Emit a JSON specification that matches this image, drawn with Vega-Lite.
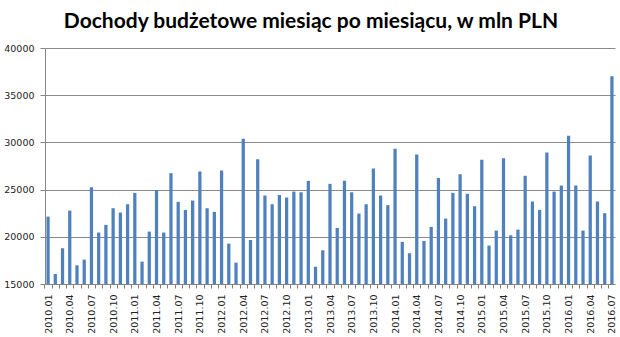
{
  "$schema": "https://vega.github.io/schema/vega-lite/v6.json",
  "width": 570,
  "height": 236,
  "autosize": {"type": "none"},
  "padding": {"left": 45, "top": 48, "right": 5, "bottom": 53},
  "background": "white",
  "title": {
    "text": "Dochody budżetowe miesiąc po miesiącu, w mln PLN",
    "font": "Lato",
    "fontSize": 21,
    "fontWeight": "bold",
    "color": "#000000",
    "anchor": "middle",
    "dx": -19,
    "offset": 11
  },
  "data": {
    "values": [
      {"m": "2010.01", "v": 22140}, {"m": "2010.02", "v": 16060}, {"m": "2010.03", "v": 18780},
      {"m": "2010.04", "v": 22780}, {"m": "2010.05", "v": 16980}, {"m": "2010.06", "v": 17580},
      {"m": "2010.07", "v": 25250}, {"m": "2010.08", "v": 20450}, {"m": "2010.09", "v": 21260},
      {"m": "2010.10", "v": 23030}, {"m": "2010.11", "v": 22570}, {"m": "2010.12", "v": 23450},
      {"m": "2011.01", "v": 24650}, {"m": "2011.02", "v": 17370}, {"m": "2011.03", "v": 20550},
      {"m": "2011.04", "v": 24970}, {"m": "2011.05", "v": 20450}, {"m": "2011.06", "v": 26740},
      {"m": "2011.07", "v": 23700}, {"m": "2011.08", "v": 22850}, {"m": "2011.09", "v": 23840},
      {"m": "2011.10", "v": 26920}, {"m": "2011.11", "v": 23030}, {"m": "2011.12", "v": 22640},
      {"m": "2012.01", "v": 27020}, {"m": "2012.02", "v": 19280}, {"m": "2012.03", "v": 17260},
      {"m": "2012.04", "v": 30380}, {"m": "2012.05", "v": 19670}, {"m": "2012.06", "v": 28220},
      {"m": "2012.07", "v": 24370}, {"m": "2012.08", "v": 23450}, {"m": "2012.09", "v": 24440},
      {"m": "2012.10", "v": 24160}, {"m": "2012.11", "v": 24790}, {"m": "2012.12", "v": 24720},
      {"m": "2013.01", "v": 25930}, {"m": "2013.02", "v": 16840}, {"m": "2013.03", "v": 18570},
      {"m": "2013.04", "v": 25610}, {"m": "2013.05", "v": 20940}, {"m": "2013.06", "v": 25930},
      {"m": "2013.07", "v": 24720}, {"m": "2013.08", "v": 22460}, {"m": "2013.09", "v": 23450},
      {"m": "2013.10", "v": 27230}, {"m": "2013.11", "v": 24370}, {"m": "2013.12", "v": 23350},
      {"m": "2014.01", "v": 29320}, {"m": "2014.02", "v": 19460}, {"m": "2014.03", "v": 18250},
      {"m": "2014.04", "v": 28720}, {"m": "2014.05", "v": 19560}, {"m": "2014.06", "v": 21050},
      {"m": "2014.07", "v": 26240}, {"m": "2014.08", "v": 21930}, {"m": "2014.09", "v": 24650},
      {"m": "2014.10", "v": 26630}, {"m": "2014.11", "v": 24550}, {"m": "2014.12", "v": 23240},
      {"m": "2015.01", "v": 28150}, {"m": "2015.02", "v": 19070}, {"m": "2015.03", "v": 20660},
      {"m": "2015.04", "v": 28330}, {"m": "2015.05", "v": 20160}, {"m": "2015.06", "v": 20760},
      {"m": "2015.07", "v": 26460}, {"m": "2015.08", "v": 23730}, {"m": "2015.09", "v": 22850},
      {"m": "2015.10", "v": 28930}, {"m": "2015.11", "v": 24790}, {"m": "2015.12", "v": 25430},
      {"m": "2016.01", "v": 30700}, {"m": "2016.02", "v": 25430}, {"m": "2016.03", "v": 20660},
      {"m": "2016.04", "v": 28610}, {"m": "2016.05", "v": 23730}, {"m": "2016.06", "v": 22500},
      {"m": "2016.07", "v": 37000}
    ]
  },
  "mark": {"type": "bar", "color": "#4F81BD", "clip": true},
  "encoding": {
    "x": {
      "field": "m",
      "type": "ordinal",
      "sort": null,
      "scale": {"paddingInner": 0.55, "paddingOuter": 0.2},
      "axis": {
        "title": null,
        "labelAngle": -90,
        "labelFont": "DejaVu Sans",
        "labelFontSize": 9.5,
        "labelColor": "#222222",
        "labelExpr": "indexof(['01','04','07','10'], slice(datum.value, 5)) >= 0 ? datum.value : ''",
        "labelPadding": 6,
        "tickOffset": -3.6,
        "labelOffset": 3.6,
        "tickSize": 4,
        "tickColor": "#8c7b6b",
        "domainColor": "#868686",
        "labelOverlap": false
      }
    },
    "y": {
      "field": "v",
      "type": "quantitative",
      "scale": {"domain": [15000, 40000], "nice": false, "zero": false},
      "axis": {
        "title": null,
        "format": "d",
        "values": [15000, 20000, 25000, 30000, 35000, 40000],
        "labelFont": "DejaVu Sans",
        "labelFontSize": 9.5,
        "labelColor": "#222222",
        "labelPadding": 6,
        "tickSize": 5,
        "tickColor": "#868686",
        "domainColor": "#868686",
        "gridColor": "#8a8a8a",
        "gridOpacity": 1,
        "gridWidth": 1
      }
    }
  },
  "config": {"view": {"stroke": null}}
}
